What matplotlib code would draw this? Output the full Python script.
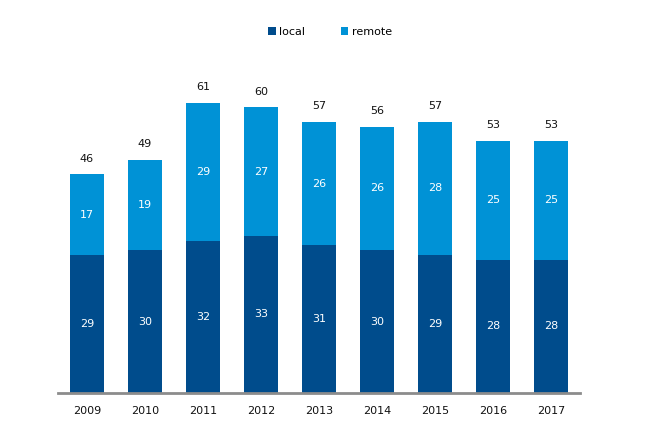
import numpy as np
from matplotlib import pyplot as plt

years = ["2009", "2010", "2011", "2012", "2013", "2014", "2015", "2016", "2017"]
local = [29, 30, 32, 33, 31, 30, 29, 28, 28]
remote = [17, 19, 29, 27, 26, 26, 28, 25, 25]
totals = [46, 49, 61, 60, 57, 56, 57, 53, 53]

dark = "#004c8c"
light = "#0092d6"

plt.rcParams["font.family"] = ["DejaVu Sans"]

fig = plt.figure(figsize=(6.56, 4.36), dpi=100)
ax = fig.add_axes([0.0884, 0.0986, 0.7956, 0.764])

x = np.arange(len(years))
b1 = ax.bar(x, local, width=0.585, color=dark, label="local")
b2 = ax.bar(x, remote, width=0.585, bottom=local, color=light, label="remote")

for i in range(len(years)):
    ax.text(x[i], local[i] / 2, str(local[i]), ha="center", va="center",
            color="white", fontsize=8)
    ax.text(x[i], local[i] + remote[i] / 2, str(remote[i]), ha="center",
            va="center", color="white", fontsize=8)
    ax.text(x[i], local[i] + remote[i] + 2.2, str(totals[i]), ha="center",
            va="bottom", color="#111111", fontsize=8)

ax.set_xlim(-0.5, 8.5)
ax.set_ylim(0, 70)
ax.set_xticks(x)
ax.set_xticklabels(years, fontsize=8, color="#111111")
ax.tick_params(axis="x", length=0, pad=9)
ax.set_yticks([])
for s in ["top", "right", "left"]:
    ax.spines[s].set_visible(False)
ax.spines["bottom"].set_color("#8c8c8c")
ax.spines["bottom"].set_linewidth(2)

fig.legend(handles=[b1, b2], loc="center", bbox_to_anchor=(0.503, 0.927),
           ncol=2, frameon=False, fontsize=8, handlelength=0.7,
           handleheight=0.7, handletextpad=0.3, columnspacing=3.2)

fig.savefig("out.png", dpi=100)
